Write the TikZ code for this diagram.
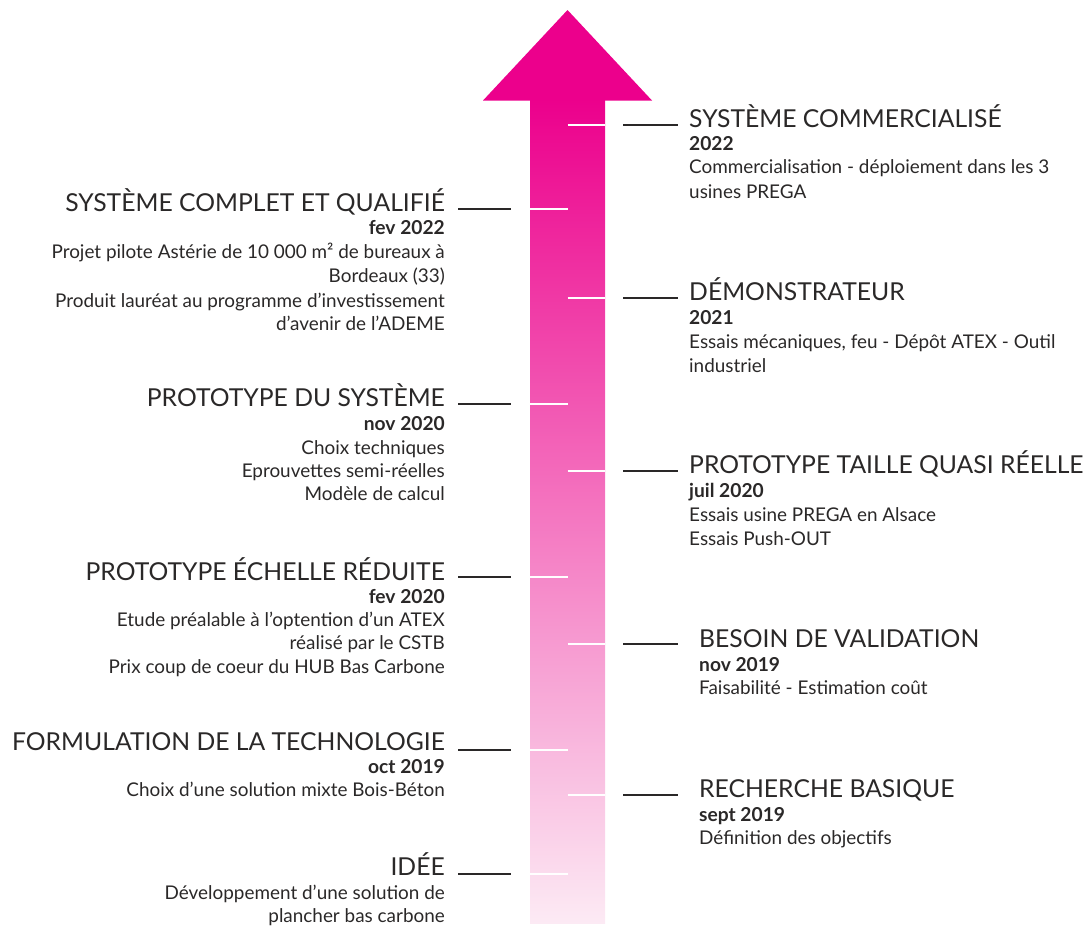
\documentclass[tikz,border=0pt]{standalone}
\usepackage{fontspec}
\setmainfont{Lato}
\definecolor{ink}{HTML}{2A2828}
\definecolor{rosetop}{HTML}{EC008C}
\definecolor{rosebottom}{HTML}{FCEAF4}
\tikzset{
  ttl/.style={font=\fontsize{24.7}{28}\selectfont, text=ink, inner sep=0pt},
  dte/.style={font=\fontsize{19.2}{22}\selectfont\bfseries, text=ink, inner sep=0pt},
  bdy/.style={font=\fontsize{18.9}{22}\selectfont, text=ink, inner sep=0pt},
  lside/.style={anchor=base east},
  rside/.style={anchor=base west},
  leader/.style={line width=2.8pt, draw=ink},
  notch/.style={line width=2pt, draw=white},
}
\begin{document}
\begin{tikzpicture}[x=1pt,y=-1pt]
\useasboundingbox (0,0) rectangle (1092,926);

% the rising arrow: gradient shaft and solid head
\shade[top color=rosetop, bottom color=rosebottom] (530,99) rectangle (605,923);
\fill[rosetop] (483,100.5) -- (567.5,10) -- (652,100.5) -- cycle;

% white notches on the shaft (right half for right-hand steps, left half for left-hand steps)
\foreach \y [count=\i] in {125,298,471,644,795} {
  \coordinate (rn\i a) at (567.5,\y);
  \coordinate (rn\i b) at (605,\y);
  \draw[notch] (rn\i a) -- (rn\i b);
  \coordinate (rk\i a) at (623,\y);
  \coordinate (rk\i b) at (678,\y);
  \draw[leader] (rk\i a) -- (rk\i b);
}
\foreach \y [count=\i] in {209,404,577,750,874} {
  \coordinate (ln\i a) at (530,\y);
  \coordinate (ln\i b) at (567.5,\y);
  \draw[notch] (ln\i a) -- (ln\i b);
  \coordinate (lk\i a) at (458,\y);
  \coordinate (lk\i b) at (511,\y);
  \draw[leader] (lk\i a) -- (lk\i b);
}

% ---- left-hand steps ----
\node[ttl,lside] (l1t) at (445,211) {SYSTÈME COMPLET ET QUALIFIÉ};
\node[dte,lside] (l1d) at (445,234) {fev 2022};
\node[bdy,lside] (l1b1) at (445,258) {Projet pilote Astérie de 10 000 m² de bureaux à};
\node[bdy,lside] (l1b2) at (445,282) {Bordeaux (33)};
\node[bdy,lside] (l1b3) at (445,307) {Produit lauréat au programme d’investissement};
\node[bdy,lside] (l1b4) at (445,330) {d’avenir de l’ADEME};

\node[ttl,lside] (l2t) at (445,406) {PROTOTYPE DU SYSTÈME};
\node[dte,lside] (l2d) at (445,430) {nov 2020};
\node[bdy,lside] (l2b1) at (445,454) {Choix techniques};
\node[bdy,lside] (l2b2) at (445,477) {Eprouvettes semi-réelles};
\node[bdy,lside] (l2b3) at (445,500) {Modèle de calcul};

\node[ttl,lside] (l3t) at (445,580) {PROTOTYPE ÉCHELLE RÉDUITE};
\node[dte,lside] (l3d) at (445,603) {fev 2020};
\node[bdy,lside] (l3b1) at (445,626) {Etude préalable à l’optention d’un ATEX};
\node[bdy,lside] (l3b2) at (445,649) {réalisé par le CSTB};
\node[bdy,lside] (l3b3) at (445,673) {Prix coup de coeur du HUB Bas Carbone};

\node[ttl,lside] (l4t) at (445,750) {FORMULATION DE LA TECHNOLOGIE};
\node[dte,lside] (l4d) at (445,773) {oct 2019};
\node[bdy,lside] (l4b1) at (445,796) {Choix d’une solution mixte Bois-Béton};

\node[ttl,lside] (l5t) at (445,875) {IDÉE};
\node[bdy,lside] (l5b1) at (445,899) {Développement d’une solution de};
\node[bdy,lside] (l5b2) at (445,922) {plancher bas carbone};

% ---- right-hand steps ----
\node[ttl,rside] (r1t) at (689,127) {SYSTÈME COMMERCIALISÉ};
\node[dte,rside] (r1d) at (689,150) {2022};
\node[bdy,rside] (r1b1) at (689,173) {Commercialisation - déploiement dans les 3};
\node[bdy,rside] (r1b2) at (689,198) {usines PREGA};

\node[ttl,rside] (r2t) at (689,300) {DÉMONSTRATEUR};
\node[dte,rside] (r2d) at (689,324) {2021};
\node[bdy,rside] (r2b1) at (689,348) {Essais mécaniques, feu - Dépôt ATEX - Outil};
\node[bdy,rside] (r2b2) at (689,372) {industriel};

\node[ttl,rside] (r3t) at (689,473) {PROTOTYPE TAILLE QUASI RÉELLE};
\node[dte,rside] (r3d) at (689,497) {juil 2020};
\node[bdy,rside] (r3b1) at (689,521) {Essais usine PREGA en Alsace};
\node[bdy,rside] (r3b2) at (689,545) {Essais Push-OUT};

\node[ttl,rside] (r4t) at (699,647) {BESOIN DE VALIDATION};
\node[dte,rside] (r4d) at (699,671) {nov 2019};
\node[bdy,rside] (r4b1) at (699,694) {Faisabilité - Estimation coût};

\node[ttl,rside] (r5t) at (699,797) {RECHERCHE BASIQUE};
\node[dte,rside] (r5d) at (699,821) {sept 2019};
\node[bdy,rside] (r5b1) at (699,844) {Définition des objectifs};
\end{tikzpicture}
\end{document}
